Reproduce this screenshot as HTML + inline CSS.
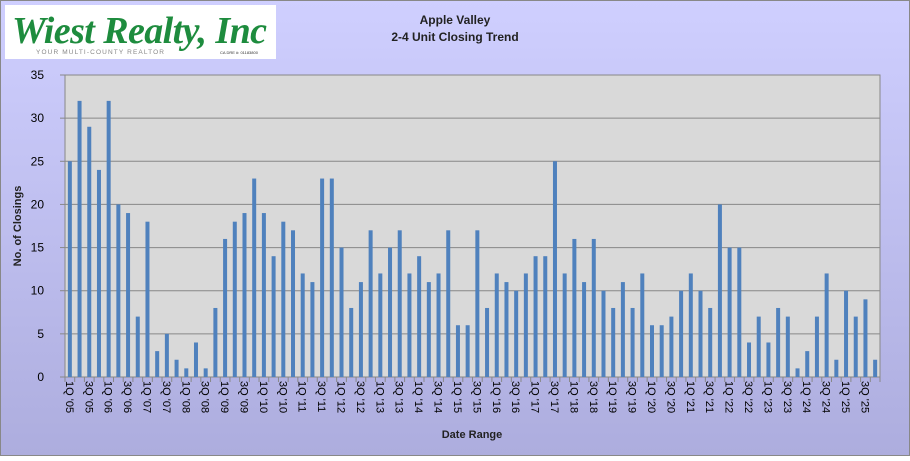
<!DOCTYPE html>
<html><head><meta charset="utf-8"><style>
html,body{margin:0;padding:0;}
body{width:910px;height:456px;overflow:hidden;font-family:"Liberation Sans",sans-serif;}
</style></head><body>
<svg width="910" height="456" xmlns="http://www.w3.org/2000/svg" font-family="Liberation Sans, sans-serif">
<defs><linearGradient id="bg" x1="0" y1="0" x2="0" y2="1"><stop offset="0" stop-color="#cfcfff"/><stop offset="1" stop-color="#adadde"/></linearGradient></defs>
<rect x="0.5" y="0.5" width="909" height="455" fill="url(#bg)" stroke="#888" />
<rect x="5" y="5" width="271" height="54" fill="#fff"/>
<text x="12" y="43" font-family="Liberation Serif, serif" font-style="italic" font-weight="bold" font-size="38" fill="#1e8c3e" textLength="255">Wiest Realty, Inc</text>
<text x="36" y="54" font-size="6.5" fill="#888" textLength="128">YOUR MULTI-COUNTY REALTOR</text>
<text x="220" y="54" font-size="4" fill="#333">CA DRE #: 01183800</text>
<text x="455" y="24" text-anchor="middle" font-size="12" font-weight="bold" fill="#222">Apple Valley</text>
<text x="455" y="41" text-anchor="middle" font-size="12" font-weight="bold" fill="#222">2-4 Unit Closing Trend</text>
<rect x="65" y="75" width="815" height="302" fill="#d9d9d9" stroke="#888" stroke-width="1"/>
<g id="grid" stroke="#888" stroke-width="1"></g>
<g id="bars" fill="#4f81bd"></g>
<g id="yl" font-size="12" fill="#000" text-anchor="end"></g>
<g id="xl" font-size="11" fill="#000"></g>
<g id="tk" stroke="#888"></g>
<text transform="translate(21,226) rotate(-90)" text-anchor="middle" font-size="11" font-weight="bold" fill="#222">No. of Closings</text>
<text x="472" y="438" text-anchor="middle" font-size="11" font-weight="bold" fill="#222">Date Range</text>
</svg>
<script>
var v=[25,32,29,24,32,20,19,7,18,3,5,2,1,4,1,8,16,18,19,23,19,14,18,17,12,11,23,23,15,8,11,17,12,15,17,12,14,11,12,17,6,6,17,8,12,11,10,12,14,14,25,12,16,11,16,10,8,11,8,12,6,6,7,10,12,10,8,20,15,15,4,7,4,8,7,1,3,7,12,2,10,7,9,2];
var ns="http://www.w3.org/2000/svg";
function el(t,a,p,txt){var e=document.createElementNS(ns,t);for(var k in a)e.setAttribute(k,a[k]);if(txt)e.textContent=txt;document.getElementById(p).appendChild(e);}
var y0=377,s=302/35,x0=65,w=815/84;
for(var i=1;i<7;i++){var y=y0-i*5*s;el('line',{x1:65,x2:880,y1:y,y2:y},'grid');}
for(var i=0;i<=7;i++){var y=y0-i*5*s;el('text',{x:44,y:y+4},'yl',String(i*5));el('line',{x1:60,x2:65,y1:y,y2:y},'tk');}
for(var i=0;i<84;i++){var c=x0+w*(i+0.5),h=v[i]*s;el('rect',{x:c-2,y:y0-h,width:4,height:h},'bars');
el('line',{x1:x0+w*i,x2:x0+w*i,y1:377,y2:382},'tk');
if(i%2==0){var yr=5+Math.floor(i/4);var q=(i%4==0)?'1Q':'3Q';var lab=q+" '"+(yr<10?'0':'')+yr;
el('text',{transform:'translate('+(c-4)+',381) rotate(90)'},'xl',lab);}}
el('line',{x1:880,x2:880,y1:377,y2:382},'tk');
</script>
</body></html>
